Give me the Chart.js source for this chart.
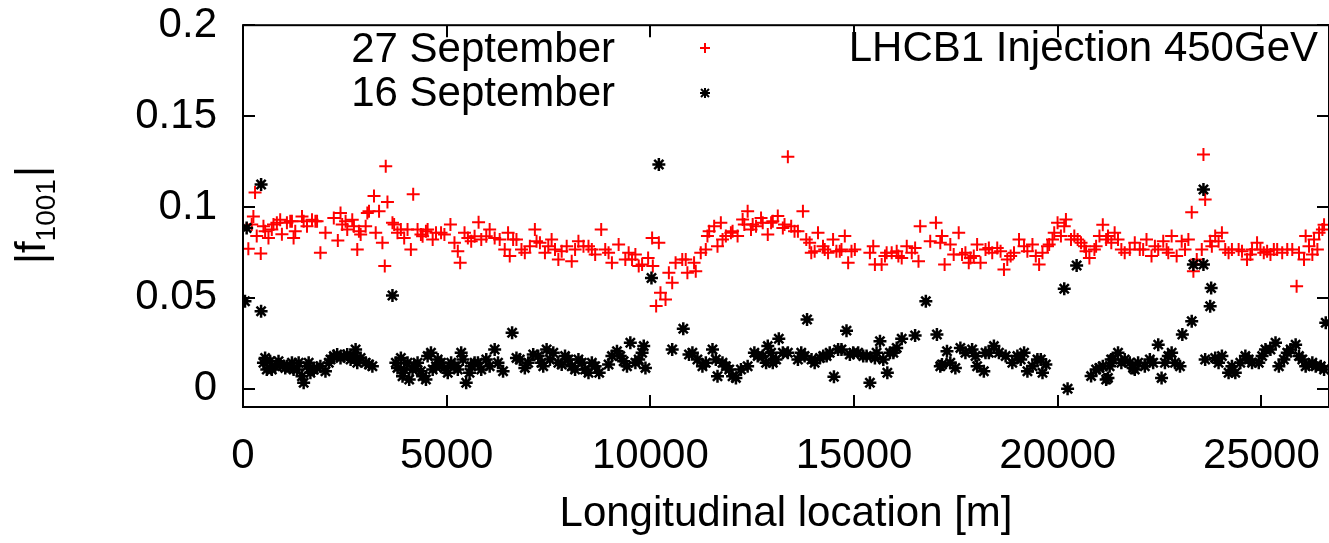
<!DOCTYPE html>
<html>
<head>
<meta charset="utf-8">
<script src="https://cdn.jsdelivr.net/npm/chart.js@4.4.0/dist/chart.umd.min.js"></script>
<style>
  html, body { margin: 0; padding: 0; background: #fff; }
</style>
</head>
<body>
<canvas id="myChart" width="1329" height="543"></canvas>
<script>
// 27 September (red +)
const sept27X = [131, 214, 255, 296, 337, 436, 502, 625, 707, 831, 955, 1078, 1201, 1242, 1448, 1571, 1694, 1818, 1900, 2024,
  2229, 2328, 2394, 2518, 2682, 2805, 2846, 3011, 3093, 3216, 3258, 3340, 3422, 3480, 3504, 3546, 3710, 3792, 3957, 4121,
  4178, 4285, 4409, 4532, 4656, 4862, 5092, 5191, 5273, 5331, 5438, 5602, 5783, 5849, 6055, 6178, 6425, 6507, 6548, 6713,
  6918, 7165, 7206, 7412, 7576, 7741, 7946, 8069, 8234, 8481, 8645, 8793, 8892, 9056, 9221, 9467, 9550, 9714, 9945, 10043,
  10060, 10142, 10208, 10248, 10372, 10454, 10536, 10619, 10783, 10868, 10909, 11073, 11114, 11237, 11360, 11401, 11566, 11648, 11730, 11853,
  11977, 12141, 12265, 12388, 12471, 12594, 12717, 12882, 12964, 13128, 13252, 13375, 13457, 13622, 13745, 13827, 13950, 14115, 14238, 14362,
  14485, 14649, 14773, 14855, 15019, 15389, 15471, 15512, 15677, 15800, 15924, 16088, 16294, 16417, 16582, 16623, 16870, 17010, 17158, 17223,
  17363, 17569, 17651, 17816, 17939, 18021, 18104, 18227, 18392, 18515, 18680, 18762, 18926, 19050, 19255, 19379, 19543, 19625, 19749, 19872,
  19996, 20078, 20201, 20407, 20572, 20654, 20777, 20900, 21024, 21106, 21233, 21397, 21562, 21644, 21891, 22014, 22179, 22302, 22467, 22590,
  22714, 22796, 22919, 23125, 23207, 23289, 23330, 23413, 23536, 23577, 23619, 23742, 23865, 24030, 24112, 24276, 24441, 24647, 24770, 24893,
  25058, 25222, 25387, 25634, 25864, 25922, 26045, 26086, 26250, 26292, 26415, 26497, 26538,
  543, 748, 913, 1160, 1283, 1489, 1777, 2435, 2559, 2723, 2888, 3052, 3669, 3875, 4039, 4368, 4491, 4738, 4944, 5520,
  5685, 5972, 6301, 6631, 6836, 7042, 7289, 7494, 7659, 7823, 8152, 8358, 8563, 8974, 9385, 9632, 9797,
  11443, 11772, 12018, 12306, 12512, 12758, 13005, 13293, 13539, 13910, 14033, 14280, 14567, 14691, 14937, 15759, 16047, 16170, 16499, 17117,
  17446, 17734, 17857, 18309, 18597, 18844, 19173, 19461, 19790, 19914, 20160, 20325, 20489, 20695, 20942, 21188,
  21315, 21480, 21768, 22097, 22385, 22673, 23043, 23783, 23948, 24194, 24523, 24729, 24975, 25140, 25305, 25510, 25757, 26168, 26374];
const sept27Y = [0.077, 0.0904, 0.0948, 0.108, 0.084, 0.0744, 0.0894, 0.083, 0.0876, 0.0913, 0.085, 0.0913, 0.0922, 0.083, 0.0948, 0.0894, 0.093, 0.0922, 0.0748, 0.0858,
  0.0939, 0.0816, 0.0967, 0.0922, 0.093, 0.0766, 0.0867, 0.0894, 0.0977, 0.106, 0.0858, 0.0977, 0.0803, 0.0675, 0.1224, 0.1027, 0.0904, 0.0858, 0.083, 0.0766,
  0.107, 0.0876, 0.0839, 0.0876, 0.0821, 0.0858, 0.0904, 0.0803, 0.0757, 0.0693, 0.0858, 0.0812, 0.0916, 0.0821, 0.0876, 0.083, 0.0766, 0.0858, 0.073, 0.0821,
  0.0748, 0.0876, 0.0812, 0.0748, 0.0821, 0.0711, 0.0784, 0.0702, 0.0812, 0.0784, 0.0739, 0.0876, 0.0766, 0.0693, 0.0794, 0.0748, 0.0711, 0.0675, 0.072, 0.083,
  0.0675, 0.0455, 0.0803, 0.0528, 0.0491, 0.0638, 0.0583, 0.0693, 0.0711, 0.0711, 0.0638, 0.0693, 0.0647, 0.0748, 0.0766, 0.084, 0.0894, 0.0784, 0.0913, 0.084,
  0.0858, 0.084, 0.0931, 0.0977, 0.0876, 0.0894, 0.094, 0.0849, 0.0913, 0.095, 0.0885, 0.1276, 0.0894, 0.0867, 0.0977, 0.0821, 0.0748, 0.0858, 0.0784, 0.0748,
  0.0821, 0.0757, 0.084, 0.0693, 0.0766, 0.0748, 0.0784, 0.0684, 0.0684, 0.0748, 0.0748, 0.073, 0.0784, 0.0748, 0.0702, 0.0894, 0.0812, 0.0913, 0.084, 0.0684,
  0.0794, 0.0858, 0.0739, 0.0693, 0.073, 0.0794, 0.0693, 0.0766, 0.0748, 0.0775, 0.0656, 0.0711, 0.0748, 0.0821, 0.0757, 0.0794, 0.0684, 0.0748, 0.0784, 0.0821,
  0.0913, 0.084, 0.0931, 0.084, 0.0803, 0.0784, 0.072, 0.0766, 0.084, 0.0903, 0.084, 0.0858, 0.0766, 0.0748, 0.0803, 0.0766, 0.0821, 0.073, 0.0766, 0.0812,
  0.0748, 0.084, 0.073, 0.0766, 0.0821, 0.0971, 0.0647, 0.0711, 0.0766, 0.1289, 0.1041, 0.0812, 0.084, 0.0858, 0.0766, 0.0766, 0.0766, 0.0711, 0.0766, 0.0803,
  0.0748, 0.0739, 0.0766, 0.0766, 0.0564, 0.0748, 0.0711, 0.084, 0.0739, 0.0821, 0.0858, 0.0876, 0.0903,
  0.0867, 0.0904, 0.093, 0.0922, 0.0867, 0.0922, 0.0922, 0.0904, 0.0876, 0.0894, 0.0849, 0.0967, 0.0913, 0.0876, 0.0876, 0.0849, 0.0867, 0.0858, 0.0849, 0.083,
  0.0839, 0.0839, 0.0821, 0.0821, 0.0766, 0.0784, 0.0803, 0.0784, 0.0766, 0.0757, 0.0766, 0.0784, 0.0766, 0.0748, 0.0711, 0.0739, 0.0684,
  0.0867, 0.0821, 0.0867, 0.0904, 0.0904, 0.0913, 0.0922, 0.0904, 0.0867, 0.0803, 0.0757, 0.0766, 0.0757, 0.0766, 0.0757, 0.073, 0.0757, 0.072, 0.0775, 0.0803,
  0.0739, 0.0748, 0.072, 0.0775, 0.0757, 0.073, 0.0784, 0.073, 0.0794, 0.0858, 0.0894, 0.0821, 0.0821, 0.0757, 0.0784, 0.0821,
  0.0803, 0.0821, 0.0766, 0.0766, 0.0784, 0.0766, 0.0812, 0.0784, 0.0812, 0.0748, 0.0757, 0.0739, 0.0766, 0.0757, 0.0766, 0.0748, 0.0766, 0.0784, 0.0766];

// 16 September (black *)
const sept16X = [49, 90, 444, 444, 502, 584, 666, 790, 913, 1078, 1242, 1366, 1489, 1571, 1654, 1818, 2024, 2147, 2312, 2476,
  2641, 2764, 2888, 3011, 3176, 3669, 3752, 3875, 3957, 4080, 4203, 4368, 4491, 4614, 4738, 4862, 5026, 5191, 5356, 5479,
  5602, 5767, 5972, 6178, 6384, 6606, 6713, 6918, 7124, 7329, 7453, 7617, 7741, 7905, 8069, 8234, 8398, 8563, 8744, 9056,
  9180, 9344, 9508, 9714, 9837, 9879, 10027, 10208, 10536, 10808, 10948, 11155, 11278, 11525, 11648, 11771, 11936, 12100, 12388, 12553,
  12758, 12882, 13005, 13153, 13375, 13704, 13846, 13957, 14162, 14326, 14506, 14609, 14815, 14979, 15225, 15389, 15512, 15636, 15817, 15882,
  16047, 16170, 16499, 16762, 17034, 17158, 17281, 17487, 17610, 17898, 18021, 18186, 18309, 18433, 18721, 19009, 19174, 19256, 19502, 19626,
  19708, 20160, 20242, 20464, 20819, 21024, 21189, 21233, 21274, 21480, 21644, 21850, 21973, 22261, 22467, 22549, 22631, 22796, 23001, 23059,
  23289, 23330, 23577, 23577, 23619, 23742, 23766, 23865, 24030, 24194, 24359, 24606, 24770, 24935, 25099, 25346, 25428, 25634, 25840, 26004,
  26168, 26333, 26538, 26579,
  543, 707, 872, 1037, 1201, 1325, 1448, 1612, 1736, 1900, 2106, 2229, 2394, 2559, 2723, 2805, 3093, 3792, 3916, 4039,
  4162, 4285, 4409, 4532, 4656, 4779, 4944, 5109, 5273, 5397, 5561, 5685, 5849, 6055, 6260, 6795, 7001, 7247, 7370, 7535,
  7823, 7988, 8152, 8316, 8481, 8645, 8974, 9262, 9426, 9632, 9797,
  11032, 11361, 11607, 11854, 12018, 12224, 12635, 12841, 12964, 13087, 13252, 13622, 13786, 14033, 14244, 14403, 14691, 14897, 15101, 15307,
  15553, 15718, 15965, 17117, 17363, 17734, 17981, 18227, 18556, 18885, 19091, 19379, 19584, 20942, 21106, 21311,
  21356, 21562, 21768, 21891, 22138, 22343, 22714, 22878, 23948, 24276, 24482, 24688, 25017, 25222, 25551, 25716, 25922, 26086, 26250, 26456];
const sept16Y = [0.0482, 0.0885, 0.1124, 0.0427, 0.0143, 0.0106, 0.0152, 0.0124, 0.0134, 0.0124, 0.0106, 0.0143, 0.0033, 0.0124, 0.0088, 0.0115, 0.0097, 0.0161, 0.0189, 0.018,
  0.0161, 0.0216, 0.017, 0.0143, 0.0124, 0.0513, 0.0143, 0.017, 0.0106, 0.0051, 0.0124, 0.0097, 0.0051, 0.0198, 0.0124, 0.0143, 0.0088, 0.0124, 0.0198, 0.0033,
  0.0124, 0.0143, 0.0161, 0.0216, 0.0097, 0.0308, 0.017, 0.0115, 0.0189, 0.0143, 0.0216, 0.0198, 0.0143, 0.018, 0.0124, 0.0161, 0.0106, 0.0143, 0.0088, 0.018,
  0.0207, 0.0152, 0.0253, 0.0161, 0.0235, 0.0115, 0.061, 0.1234, 0.0216, 0.033, 0.0189, 0.0161, 0.0124, 0.0216, 0.0069, 0.0143, 0.0106, 0.006, 0.0124, 0.0198,
  0.018, 0.0235, 0.0143, 0.0275, 0.0198, 0.0198, 0.0381, 0.0161, 0.017, 0.018, 0.0066, 0.0216, 0.032, 0.0198, 0.018, 0.0033, 0.017, 0.0262, 0.0088, 0.0198,
  0.0225, 0.0275, 0.0293, 0.0482, 0.0299, 0.0134, 0.0207, 0.0115, 0.0225, 0.0216, 0.0124, 0.0097, 0.0198, 0.0235, 0.018, 0.018, 0.0198, 0.0097, 0.0161, 0.0088,
  0.0134, 0.055, 0.0, 0.0678, 0.007, 0.0115, 0.0051, 0.006, 0.0124, 0.0198, 0.0161, 0.0115, 0.0143, 0.0161, 0.0243, 0.006, 0.0143, 0.0198, 0.0124, 0.0299,
  0.0372, 0.0684, 0.0684, 0.1096, 0.0161, 0.0454, 0.0555, 0.017, 0.018, 0.0088, 0.0088, 0.018, 0.0143, 0.0143, 0.0216, 0.0253, 0.0124, 0.0198, 0.0243, 0.0161,
  0.0134, 0.0124, 0.0106, 0.0363,
  0.017, 0.0106, 0.0152, 0.0115, 0.0143, 0.0106, 0.0069, 0.0143, 0.0106, 0.0124, 0.0143, 0.018, 0.017, 0.0189, 0.018, 0.0143, 0.0134, 0.0115, 0.0069, 0.0143,
  0.0106, 0.0143, 0.0069, 0.018, 0.0106, 0.0161, 0.0115, 0.0143, 0.0106, 0.0161, 0.0088, 0.0143, 0.0106, 0.0124, 0.0143, 0.0161, 0.0143, 0.018, 0.0124, 0.0161,
  0.0134, 0.0161, 0.0106, 0.0143, 0.0088, 0.0124, 0.0134, 0.018, 0.0124, 0.0143, 0.0198,
  0.0198, 0.0143, 0.0161, 0.0124, 0.0069, 0.0106, 0.018, 0.0143, 0.0198, 0.0161, 0.0198, 0.0161, 0.018, 0.0143, 0.018, 0.0198, 0.0216, 0.0189, 0.0198, 0.018,
  0.0198, 0.0161, 0.0198, 0.0124, 0.0143, 0.0198, 0.018, 0.0198, 0.0198, 0.0143, 0.0161, 0.0124, 0.0161, 0.0106, 0.0124, 0.0161,
  0.0161, 0.0143, 0.0143, 0.0106, 0.0124, 0.0143, 0.018, 0.0143, 0.0143, 0.0124, 0.0143, 0.0161, 0.018, 0.0216, 0.0161, 0.0216, 0.018, 0.0124, 0.0143, 0.0124];

const seriesLabels = ["27 September", "16 September"];
const plotLabel = "LHCB1 Injection 450GeV";
const xTitle = "Longitudinal location [m]";
const xTickValues = [0, 5000, 10000, 15000, 20000, 25000];
const yTickValues = [0, 0.05, 0.1, 0.15, 0.2];
const xMax = 26659;

const FONT = "'Liberation Sans', Arial, Helvetica, sans-serif";

const toPoints = (xs, ys) => xs.map((x, i) => ({ x: x, y: ys[i] }));

const drawPlus = (ctx, x, y, r) => {
  ctx.moveTo(x - r, y); ctx.lineTo(x + r, y);
  ctx.moveTo(x, y - r); ctx.lineTo(x, y + r);
};

// gnuplot style frame: white page, border, inward mirrored ticks, key, labels
const gnuplotFrame = {
  id: "gnuplotFrame",
  beforeDraw(chart) {
    const ctx = chart.ctx;
    ctx.save();
    ctx.fillStyle = "#fff";
    ctx.fillRect(0, 0, chart.width, chart.height);
    ctx.restore();
  },
  afterDraw(chart) {
    const ctx = chart.ctx;
    const a = chart.chartArea;
    const xs = chart.scales.x;
    const ys = chart.scales.y;
    const tl = 12;
    ctx.save();
    ctx.strokeStyle = "#000";
    ctx.lineWidth = 2;
    ctx.beginPath();
    xs.ticks.forEach((t) => {
      const px = Math.round(xs.getPixelForValue(t.value));
      ctx.moveTo(px, a.bottom); ctx.lineTo(px, a.bottom - tl);
      ctx.moveTo(px, a.top); ctx.lineTo(px, a.top + tl);
    });
    ys.ticks.forEach((t) => {
      const py = Math.round(ys.getPixelForValue(t.value));
      ctx.moveTo(a.left, py); ctx.lineTo(a.left + tl, py);
      ctx.moveTo(a.right, py); ctx.lineTo(a.right - tl, py);
    });
    ctx.stroke();
    ctx.strokeRect(a.left, a.top, a.right - a.left, a.bottom - a.top);

    // key
    ctx.fillStyle = "#000";
    ctx.font = "42px " + FONT;
    ctx.textBaseline = "alphabetic";
    ctx.textAlign = "right";
    ctx.fillText(seriesLabels[0], 615, 62);
    ctx.fillText(seriesLabels[1], 615, 106);
    ctx.fillText(plotLabel, 1318, 61);

    ctx.lineWidth = 2;
    ctx.strokeStyle = "#ff0000";
    ctx.beginPath();
    drawPlus(ctx, 705, 48, 5);
    ctx.stroke();
    ctx.strokeStyle = "#000";
    ctx.beginPath();
    drawPlus(ctx, 705, 93, 5);
    ctx.moveTo(701, 89); ctx.lineTo(709, 97);
    ctx.moveTo(709, 89); ctx.lineTo(701, 97);
    ctx.stroke();

    // y title |f_1001| rotated
    const main1 = "|f", sub = "1001", main2 = "|";
    ctx.font = "42px " + FONT;
    const w1 = ctx.measureText(main1).width;
    const w3 = ctx.measureText(main2).width;
    ctx.font = "28px " + FONT;
    const w2 = ctx.measureText(sub).width;
    const total = w1 + w2 + w3;
    ctx.translate(45, (a.top + a.bottom) / 2);
    ctx.rotate(-Math.PI / 2);
    ctx.textAlign = "left";
    ctx.font = "42px " + FONT;
    ctx.fillText(main1, -total / 2, 0);
    ctx.font = "28px " + FONT;
    ctx.fillText(sub, -total / 2 + w1, 10);
    ctx.font = "42px " + FONT;
    ctx.fillText(main2, -total / 2 + w1 + w2 + 2, 0);
    ctx.restore();
  }
};

const config = {
  type: "scatter",
  data: {
    datasets: [
      {
        label: seriesLabels[1],
        data: toPoints(sept16X, sept16Y),
        pointStyle: "star",
        pointRadius: 6.5,
        borderColor: "#000",
        backgroundColor: "#000",
        pointBorderWidth: 2.5,
      },
      {
        label: seriesLabels[0],
        data: toPoints(sept27X, sept27Y),
        pointStyle: "cross",
        pointRadius: 6.5,
        borderColor: "#ff0000",
        backgroundColor: "#ff0000",
        pointBorderWidth: 2,
      },
    ],
  },
  options: {
    responsive: false,
    animation: false,
    events: [],
    // the layout keeps ~12px spare on the right, so the padding is pulled back to put the frame at x=1323
    layout: { autoPadding: false, padding: { top: 0, right: -6, left: 0, bottom: 0 } },
    plugins: {
      legend: { display: false },
      tooltip: { enabled: false },
    },
    scales: {
      x: {
        type: "linear",
        min: 0,
        max: xMax,
        afterBuildTicks: (scale) => { scale.ticks = xTickValues.map((v) => ({ value: v })); },
        afterFit: (scale) => {
          scale.height = 136;
          scale.paddingLeft = 0;
          scale.paddingRight = 0;
        },
        // label gap comes from an invisible tick length so it does not pad the plot sides
        grid: { display: false, drawTicks: true, tickLength: 24 },
        border: { display: false },
        ticks: {
          autoSkip: false,
          maxRotation: 0,
          padding: 0,
          color: "#000",
          font: { family: FONT, size: 42 },
          callback: (v) => String(v),
        },
        title: {
          display: true,
          text: xTitle,
          color: "#000",
          font: { family: FONT, size: 42 },
          padding: { top: 0, bottom: 3 },
        },
      },
      y: {
        type: "linear",
        min: -0.01,
        max: 0.2,
        afterBuildTicks: (scale) => { scale.ticks = yTickValues.map((v) => ({ value: v })); },
        afterFit: (scale) => { scale.width = 243; },
        grid: { display: false, drawTicks: true, tickLength: 26 },
        border: { display: false },
        ticks: {
          autoSkip: false,
          padding: 0,
          color: "#000",
          font: { family: FONT, size: 42 },
          callback: (v) => String(Math.round(v * 100) / 100),
        },
      },
    },
  },
  plugins: [gnuplotFrame],
};

const myChart = new Chart(document.getElementById("myChart"), config);
</script>
</body>
</html>
